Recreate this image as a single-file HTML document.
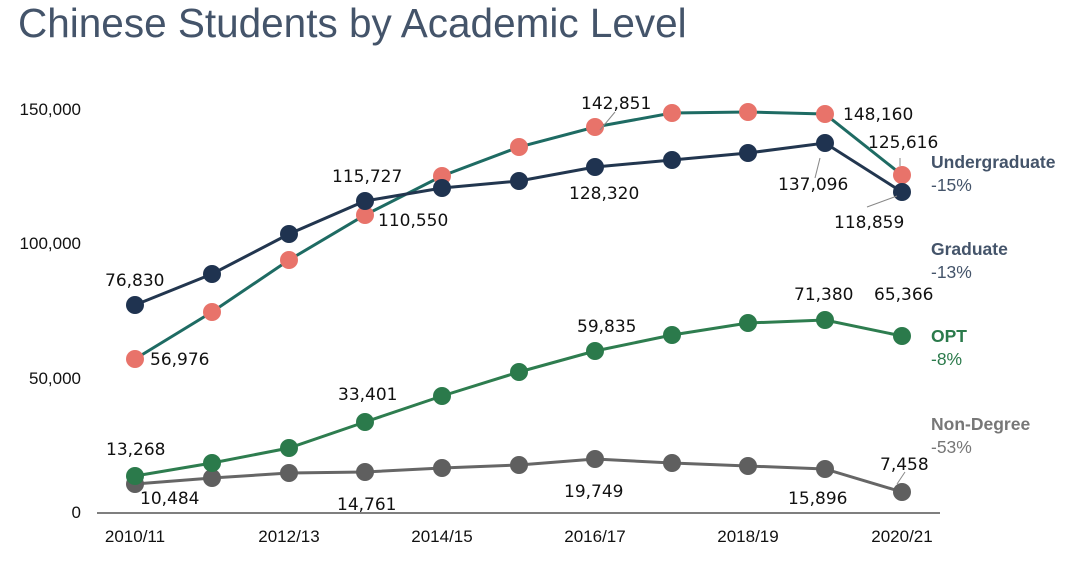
<!DOCTYPE html>
<html><head><meta charset="utf-8"><style>
body{margin:0;background:#fff;}
svg{display:block}
</style></head><body>
<svg width="1080" height="575" xmlns="http://www.w3.org/2000/svg" font-family="Liberation Sans, sans-serif">
<rect width="1080" height="575" fill="#fff"/>
<text x="18" y="37" font-size="40.5" fill="#44546a">Chinese Students by Academic Level</text>
<g font-size="17" fill="#111" text-anchor="end">
<text x="81" y="115">150,000</text>
<text x="81" y="249">100,000</text>
<text x="81" y="384">50,000</text>
<text x="81" y="518">0</text>
</g>
<line x1="97" y1="513" x2="940" y2="513" stroke="#555" stroke-width="1.5"/>
<g font-size="17" fill="#111" text-anchor="middle">
<text x="135" y="542">2010/11</text><text x="289" y="542">2012/13</text><text x="442" y="542">2014/15</text>
<text x="595" y="542">2016/17</text><text x="748" y="542">2018/19</text><text x="902" y="542">2020/21</text>
</g>
<!-- Non-degree -->
<polyline fill="none" stroke="#666" stroke-width="3" points="135,484 212,478 289,473 365,472 442,468 519,465 595,459 672,463 748,466 825,469 902,492"/>
<g fill="#5f5f5f"><circle cx="135" cy="484" r="9"/><circle cx="212" cy="478" r="9"/><circle cx="289" cy="473" r="9"/><circle cx="365" cy="472" r="9"/><circle cx="442" cy="468" r="9"/><circle cx="519" cy="465" r="9"/><circle cx="595" cy="459" r="9"/><circle cx="672" cy="463" r="9"/><circle cx="748" cy="466" r="9"/><circle cx="825" cy="469" r="9"/><circle cx="902" cy="492" r="9"/></g>
<!-- OPT -->
<polyline fill="none" stroke="#2e7d4f" stroke-width="3" points="135,476 212,463 289,448 365,422 442,396 519,372 595,351 672,335 748,323 825,320 902,336"/>
<g fill="#2b7a4b"><circle cx="135" cy="476" r="9"/><circle cx="212" cy="463" r="9"/><circle cx="289" cy="448" r="9"/><circle cx="365" cy="422" r="9"/><circle cx="442" cy="396" r="9"/><circle cx="519" cy="372" r="9"/><circle cx="595" cy="351" r="9"/><circle cx="672" cy="335" r="9"/><circle cx="748" cy="323" r="9"/><circle cx="825" cy="320" r="9"/><circle cx="902" cy="336" r="9"/></g>
<!-- Graduate -->
<polyline fill="none" stroke="#1e6b63" stroke-width="3" points="135,359 212,312 289,260 365,215 442,176 519,147 595,127 672,113 748,112 825,114 902,175"/>
<g fill="#e8736a"><circle cx="135" cy="359" r="9"/><circle cx="212" cy="312" r="9"/><circle cx="289" cy="260" r="9"/><circle cx="365" cy="215" r="9"/><circle cx="442" cy="176" r="9"/><circle cx="519" cy="147" r="9"/><circle cx="595" cy="127" r="9"/><circle cx="672" cy="113" r="9"/><circle cx="748" cy="112" r="9"/><circle cx="825" cy="114" r="9"/><circle cx="902" cy="175" r="9"/></g>
<!-- Undergrad -->
<polyline fill="none" stroke="#22364f" stroke-width="3" points="135,305 212,274 289,234 365,201 442,188 519,181 595,167 672,160 748,153 825,143 902,192"/>
<g fill="#1f3350"><circle cx="135" cy="305" r="9"/><circle cx="212" cy="274" r="9"/><circle cx="289" cy="234" r="9"/><circle cx="365" cy="201" r="9"/><circle cx="442" cy="188" r="9"/><circle cx="519" cy="181" r="9"/><circle cx="595" cy="167" r="9"/><circle cx="672" cy="160" r="9"/><circle cx="748" cy="153" r="9"/><circle cx="825" cy="143" r="9"/><circle cx="902" cy="192" r="9"/></g>
<g stroke="#888" stroke-width="1"><line x1="820" y1="158" x2="815" y2="178"/><line x1="897" y1="196" x2="867" y2="207"/><line x1="900" y1="166" x2="900" y2="158"/><line x1="600" y1="130" x2="615" y2="112"/><line x1="897" y1="484" x2="905" y2="472"/></g>
<g font-size="17" fill="#111" font-family="DejaVu Sans, sans-serif">
<text x="105" y="286">76,830</text>
<text x="150" y="365">56,976</text>
<text x="332" y="182">115,727</text>
<text x="378" y="226">110,550</text>
<text x="581" y="109">142,851</text>
<text x="569" y="199">128,320</text>
<text x="843" y="120">148,160</text>
<text x="868" y="148">125,616</text>
<text x="778" y="190">137,096</text>
<text x="834" y="228">118,859</text>
<text x="338" y="400">33,401</text>
<text x="577" y="332">59,835</text>
<text x="794" y="300">71,380</text>
<text x="874" y="300">65,366</text>
<text x="106" y="455">13,268</text>
<text x="140" y="504">10,484</text>
<text x="337" y="510">14,761</text>
<text x="564" y="497">19,749</text>
<text x="788" y="504">15,896</text>
<text x="880" y="470">7,458</text>
</g>
<g font-size="17.5">
<text x="931" y="168" font-weight="bold" fill="#44546a">Undergraduate</text>
<text x="931" y="191" fill="#44546a">-15%</text>
<text x="931" y="255" font-weight="bold" fill="#44546a">Graduate</text>
<text x="931" y="278" fill="#44546a">-13%</text>
<text x="931" y="342" font-weight="bold" fill="#2b7a4b">OPT</text>
<text x="931" y="365" fill="#2b7a4b">-8%</text>
<text x="931" y="430" font-weight="bold" fill="#777">Non-Degree</text>
<text x="931" y="453" fill="#777">-53%</text>
</g>
</svg>
</body></html>
